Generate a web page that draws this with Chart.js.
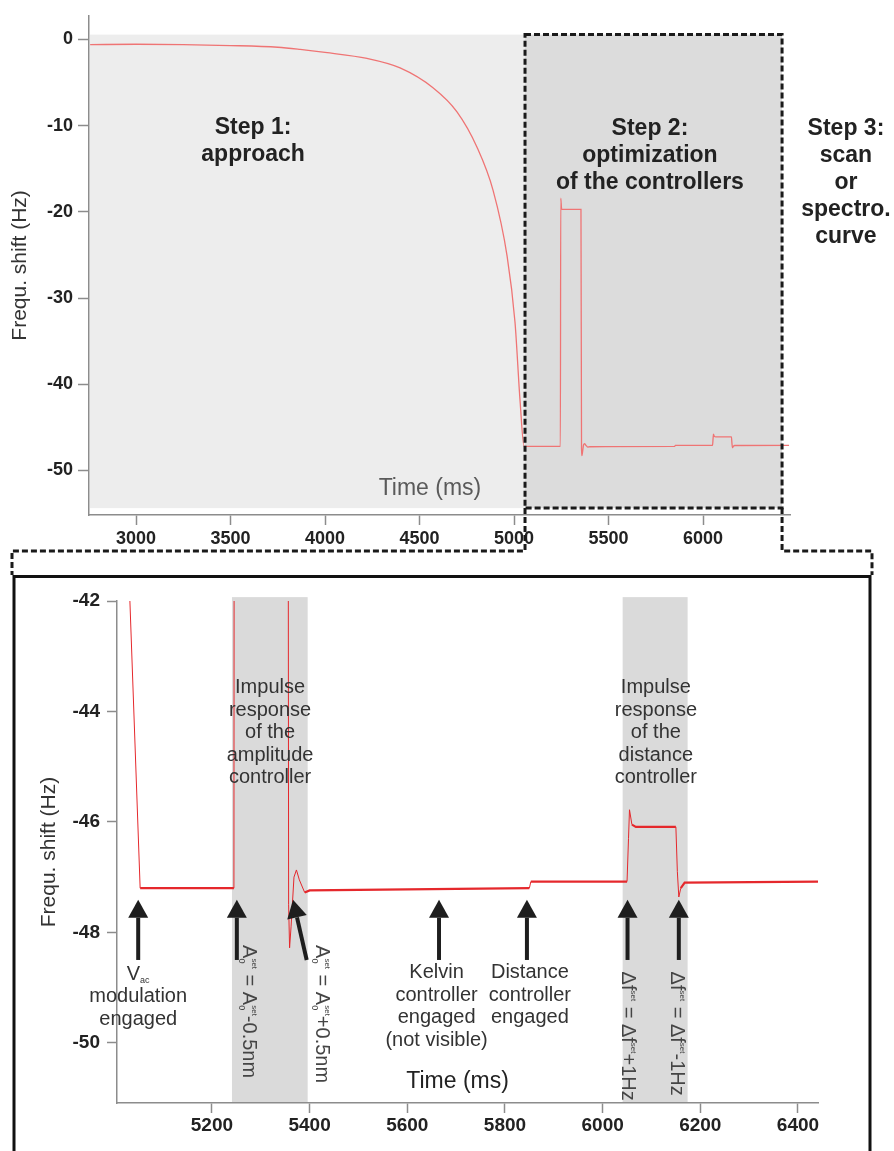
<!DOCTYPE html>
<html lang="en">
<head>
<meta charset="UTF-8">
<title>Frequency shift during approach and controller optimization</title>
<style>
  body { margin: 0; background: #fff; }
  .wrap { position: relative; width: 894px; height: 1151px; overflow: hidden; }
  canvas { position: absolute; left: 0; }
  #topChart { top: 0; }
  #zoomChart { top: 575px; }
</style>
</head>
<body>
<div class="wrap">
  <canvas id="topChart" width="894" height="575"></canvas>
  <canvas id="zoomChart" width="894" height="576"></canvas>
</div>
<script src="https://cdn.jsdelivr.net/npm/chart.js"></script>
<script>
const timeMs = [
  2757, 3000, 3250, 3500, 3750, 3868, 4000, 4222, 4397, 4571, 4698, 4804, 4889, 4963, 5005, 5032, 5053,
  5245, 5247, 5252, 5354, 5357, 5359, 5362, 5368, 5373, 5379, 5390, 5400,
  5850, 5853, 6050, 6053, 6055, 6060, 6068, 6150, 6153, 6156, 6160, 6168, 6441, 6455
];
const shiftHz = [
  -0.6, -0.55, -0.6, -0.7, -0.9, -1.15, -1.5, -2.2, -3.3, -5.6, -8.4, -12.5, -17.5, -25.1, -32.8, -42.0, -47.2,
  -47.2, -18.4, -19.7, -19.7, -47.5, -48.28, -47.9, -47.0, -46.87, -47.05, -47.28, -47.24,
  -47.2, -47.08, -47.08, -46.3, -45.78, -46.05, -46.09, -46.09, -46.9, -47.36, -47.2, -47.1, -47.08, -47.08
];

// axes
const topXTicks = [3000, 3500, 4000, 4500, 5000, 5500, 6000];
const topYTicks = [0, -10, -20, -30, -40, -50];
const zoomXTicks = [5200, 5400, 5600, 5800, 6000, 6200, 6400];
const zoomYTicks = [-42, -44, -46, -48, -50];

// shaded windows
const step2Window = [5058, 6418];
const impulseWindows = [[5241, 5396], [6041, 6174]];

// events marked by arrows in the zoom (tail time, tip time)
const eventTail = [5049, 5251, 5394, 5665, 5845, 6051, 6156];
const eventTip  = [5049, 5251, 5366, 5665, 5845, 6051, 6156];

const FONT = '"Liberation Sans", Arial, Helvetica, sans-serif';
const points = timeMs.map((t, i) => ({ x: t, y: shiftHz[i] }));

function font(size, weight) {
  return (weight || 'normal') + ' ' + size + 'px ' + FONT;
}

function textLines(ctx, lines, x, y, lh, f, color) {
  ctx.font = f;
  ctx.fillStyle = color;
  ctx.textAlign = 'center';
  ctx.textBaseline = 'middle';
  lines.forEach((l, i) => ctx.fillText(l, x, y + i * lh));
}

// parts: [text, size, dy, advance]
function richText(ctx, parts, x, y, align) {
  ctx.textAlign = 'left';
  ctx.textBaseline = 'alphabetic';
  let w = 0;
  const widths = parts.map(p => {
    ctx.font = font(p[1]);
    const m = ctx.measureText(p[0]).width;
    if (p[3] !== false) w += m;
    return m;
  });
  let cx = align === 'center' ? x - w / 2 : x;
  parts.forEach((p, i) => {
    ctx.font = font(p[1]);
    ctx.fillText(p[0], cx, y + (p[2] || 0));
    if (p[3] !== false) cx += widths[i];
  });
}

function rotatedRich(ctx, parts, x, y) {
  ctx.save();
  ctx.translate(x, y);
  ctx.rotate(Math.PI / 2);
  richText(ctx, parts, 0, 0, 'left');
  ctx.restore();
}

function drawArrow(ctx, x0, y0, x1, y1) {
  const ang = Math.atan2(y1 - y0, x1 - x0);
  const headLen = 18, headW = 10;
  const bx = x1 - headLen * Math.cos(ang), by = y1 - headLen * Math.sin(ang);
  ctx.strokeStyle = '#1e1e1e';
  ctx.fillStyle = '#1e1e1e';
  ctx.lineWidth = 4;
  ctx.beginPath();
  ctx.moveTo(x0, y0);
  ctx.lineTo(bx, by);
  ctx.stroke();
  ctx.beginPath();
  ctx.moveTo(x1, y1);
  ctx.lineTo(bx - headW * Math.sin(ang), by + headW * Math.cos(ang));
  ctx.lineTo(bx + headW * Math.sin(ang), by - headW * Math.cos(ang));
  ctx.closePath();
  ctx.fill();
}

function axisStyle(ticks, size, pad, tickLen) {
  return {
    afterBuildTicks: s => { s.ticks = ticks.map(v => ({ value: v })); },
    ticks: {
      color: '#222', padding: pad,
      font: { family: FONT, size: size, weight: 'bold' },
      callback: v => String(v)
    },
    grid: { drawOnChartArea: false, drawTicks: true, tickLength: tickLen, tickColor: '#8c8c8c', tickWidth: 1.5 },
    border: { display: true, color: '#8c8c8c', width: 1.5 }
  };
}

// ---------- overview chart ----------
const overviewDecor = {
  id: 'overviewDecor',
  beforeDatasetsDraw(chart) {
    const { ctx, chartArea, scales: { x, y } } = chart;
    const top = y.getPixelForValue(0.57), bot = y.getPixelForValue(-54.36);
    const b0 = x.getPixelForValue(step2Window[0]), b1 = x.getPixelForValue(step2Window[1]);
    ctx.save();
    ctx.fillStyle = '#ededed';
    ctx.fillRect(chartArea.left + 1, top, b0 - chartArea.left - 1, bot - top);
    ctx.fillStyle = '#dcdcdc';
    ctx.fillRect(b0, top, b1 - b0, bot - top);
    textLines(ctx, ['Time (ms)'], x.getPixelForValue(4555), y.getPixelForValue(-52.06), 0, font(23), '#5a5a5a');
    ctx.restore();
  },
  afterDraw(chart) {
    const { ctx, scales: { x, y } } = chart;
    const top = y.getPixelForValue(0.57), bot = y.getPixelForValue(-54.36);
    const b0 = x.getPixelForValue(step2Window[0]), b1 = x.getPixelForValue(step2Window[1]);
    ctx.save();
    ctx.setLineDash([6, 3]);
    ctx.lineWidth = 3;
    ctx.strokeStyle = '#1a1a1a';
    ctx.strokeRect(b0, top, b1 - b0, bot - top);
    ctx.beginPath();
    ctx.moveTo(b0, bot); ctx.lineTo(b0, 551); ctx.lineTo(12, 551); ctx.lineTo(12, 576);
    ctx.moveTo(b1, bot); ctx.lineTo(b1, 551); ctx.lineTo(872, 551); ctx.lineTo(872, 576);
    ctx.stroke();
    ctx.setLineDash([]);
    const f = font(23, 'bold');
    textLines(ctx, ['Step 1:', 'approach'], x.getPixelForValue(3619), y.getPixelForValue(-10.2), 27, f, '#222');
    textLines(ctx, ['Step 2:', 'optimization', 'of the controllers'], x.getPixelForValue(5719), y.getPixelForValue(-10.3), 27, f, '#222');
    textLines(ctx, ['Step 3:', 'scan', 'or', 'spectro.', 'curve'], x.getPixelForValue(6756), y.getPixelForValue(-10.3), 27, f, '#222');
    ctx.restore();
  }
};

const topX = axisStyle(topXTicks, 18, 3, 10);
topX.type = 'linear';
topX.min = 2751;
topX.max = 6460;
topX.afterFit = s => { s.height = 60; };

const topY = axisStyle(topYTicks, 18, 5, 11);
topY.min = -55.16;
topY.max = 2.75;
topY.afterFit = s => { s.width = 89; };
topY.title = { display: true, text: 'Frequ. shift (Hz)', color: '#333', font: { family: FONT, size: 21 }, padding: { top: 8, bottom: 0 } };

new Chart(document.getElementById('topChart'), {
  type: 'line',
  data: {
    datasets: [{
      data: points,
      borderColor: '#ef7474',
      borderWidth: 1.3,
      pointRadius: 0,
      cubicInterpolationMode: 'monotone'
    }]
  },
  options: {
    responsive: false,
    animation: false,
    devicePixelRatio: 1,
    layout: { padding: { left: 0, right: 104, top: 10, bottom: 0 } },
    plugins: { legend: { display: false }, tooltip: { enabled: false } },
    scales: { x: topX, y: topY }
  },
  plugins: [overviewDecor]
});

// ---------- zoomed chart ----------
const zoomDecor = {
  id: 'zoomDecor',
  beforeDatasetsDraw(chart) {
    const { ctx, chartArea, scales: { x, y } } = chart;
    const top = y.getPixelForValue(-41.93);
    ctx.save();
    ctx.fillStyle = '#dadada';
    impulseWindows.forEach(w => {
      const a = x.getPixelForValue(w[0]), b = x.getPixelForValue(w[1]);
      ctx.fillRect(a, top, b - a, chartArea.bottom - top - 1);
    });
    ctx.restore();
  },
  afterDatasetsDraw(chart) {
    const { ctx, scales: { x, y } } = chart;
    ctx.save();
    const f = font(20);
    const c = '#333';
    textLines(ctx, ['Impulse', 'response', 'of the', 'amplitude', 'controller'], x.getPixelForValue(5319), y.getPixelForValue(-43.57), 22.5, f, c);
    textLines(ctx, ['Impulse', 'response', 'of the', 'distance', 'controller'], x.getPixelForValue(6109), y.getPixelForValue(-43.57), 22.5, f, c);

    eventTail.forEach((t, i) => {
      drawArrow(ctx, x.getPixelForValue(t), y.getPixelForValue(-48.5), x.getPixelForValue(eventTip[i]), y.getPixelForValue(-47.41));
    });

    ctx.fillStyle = c;
    richText(ctx, [['V', 20, 0], ['ac', 9, 3]], x.getPixelForValue(5049), y.getPixelForValue(-48.73) + 7, 'center');
    textLines(ctx, ['modulation', 'engaged'], x.getPixelForValue(5049), y.getPixelForValue(-48.73) + 24, 22.5, f, c);
    textLines(ctx, ['Kelvin', 'controller', 'engaged', '(not visible)'], x.getPixelForValue(5660), y.getPixelForValue(-48.73), 22.5, f, c);
    textLines(ctx, ['Distance', 'controller', 'engaged'], x.getPixelForValue(5851), y.getPixelForValue(-48.73), 22.5, f, c);
    textLines(ctx, ['Time (ms)'], x.getPixelForValue(5703), y.getPixelForValue(-50.71), 0, font(23), '#222');

    ctx.fillStyle = '#454545';
    const aLabel = sign => [['A', 20, 0], ['0', 9, 4, false], ['set', 8, -9], [' = A', 20, 0], ['0', 9, 4, false], ['set', 8, -9], [sign + '0.5nm', 20, 0]];
    rotatedRich(ctx, aLabel('-'), x.getPixelForValue(5263), y.getPixelForValue(-48.23));
    rotatedRich(ctx, aLabel('+'), x.getPixelForValue(5413), y.getPixelForValue(-48.23));
    const dfLabel = sign => [['\u0394f', 20, 0], ['set', 8, -9], [' = \u0394f', 20, 0], ['set', 8, -9], [sign + '1Hz', 20, 0]];
    rotatedRich(ctx, dfLabel('+'), x.getPixelForValue(6039), y.getPixelForValue(-48.71));
    rotatedRich(ctx, dfLabel('-'), x.getPixelForValue(6141), y.getPixelForValue(-48.71));
    ctx.restore();
  },
  afterDraw(chart) {
    const { ctx } = chart;
    ctx.save();
    ctx.strokeStyle = '#111';
    ctx.lineWidth = 3;
    ctx.beginPath();
    ctx.moveTo(14, 590);
    ctx.lineTo(14, 1.5);
    ctx.lineTo(870, 1.5);
    ctx.lineTo(870, 590);
    ctx.stroke();
    ctx.restore();
  }
};

const zoomX = axisStyle(zoomXTicks, 19, 1, 10);
zoomX.type = 'linear';
zoomX.min = 5005.6;
zoomX.max = 6441;
zoomX.afterFit = s => { s.height = 48; };

const zoomY = axisStyle(zoomYTicks, 19, 7, 10);
zoomY.min = -51.09;
zoomY.max = -42;
zoomY.afterFit = s => { s.width = 117; };
zoomY.title = { display: true, text: 'Frequ. shift (Hz)', color: '#333', font: { family: FONT, size: 21 }, padding: { top: 37, bottom: 0 } };

new Chart(document.getElementById('zoomChart'), {
  type: 'line',
  data: {
    datasets: [{
      data: points,
      borderColor: '#e5282c',
      borderWidth: 2.2,
      pointRadius: 0,
      tension: 0,
      segment: {
        borderWidth: ctx => Math.abs(ctx.p1.y - ctx.p0.y) > 2 * Math.abs(ctx.p1.x - ctx.p0.x) ? 1 : 2.2
      }
    }]
  },
  options: {
    responsive: false,
    animation: false,
    devicePixelRatio: 1,
    layout: { padding: { left: 0, right: 76, top: 26, bottom: 0 } },
    plugins: { legend: { display: false }, tooltip: { enabled: false } },
    scales: { x: zoomX, y: zoomY }
  },
  plugins: [zoomDecor]
});
</script>
</body>
</html>
